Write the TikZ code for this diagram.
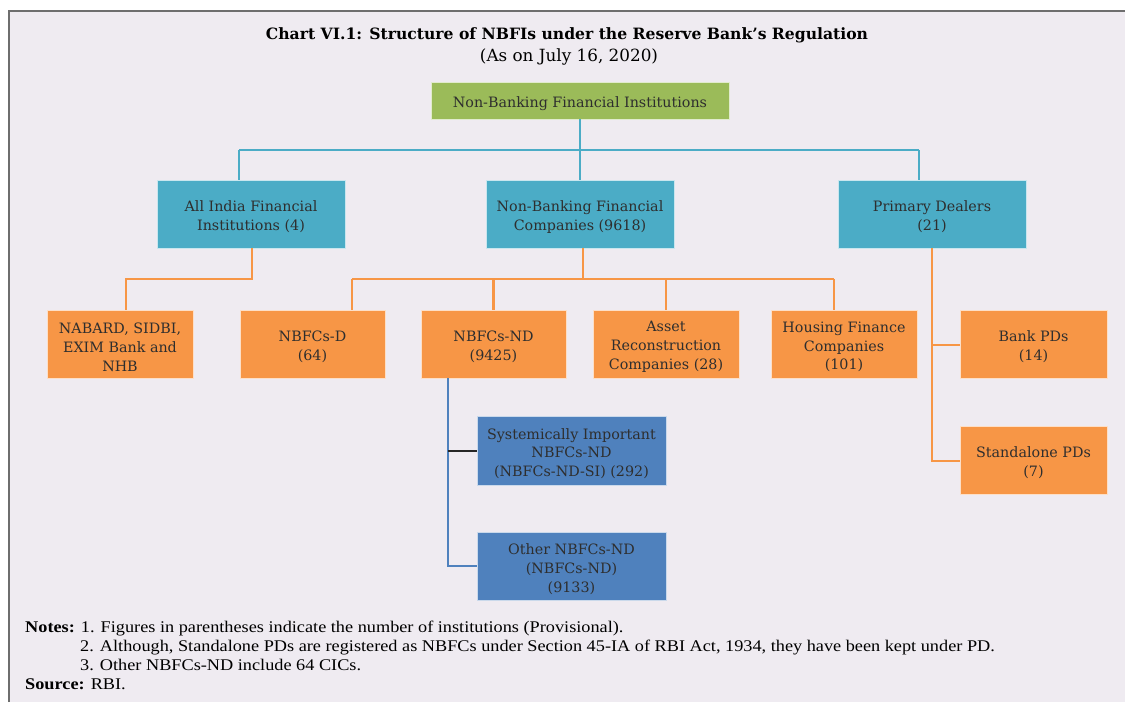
\documentclass[tikz,border=0pt]{standalone}
\usepackage{fontspec}
\setmainfont{DejaVu Serif}
\newfontfamily\notefont[FakeStretch=1.12]{Liberation Serif}
\usetikzlibrary{calc}
\definecolor{bgc}{HTML}{EFEBF1}
\definecolor{framec}{HTML}{6E6E6E}
\definecolor{greenc}{HTML}{9BBB59}
\definecolor{tealc}{HTML}{4BACC6}
\definecolor{orangec}{HTML}{F79646}
\definecolor{bluec}{HTML}{4F81BD}
\definecolor{txtc}{HTML}{2E2E2E}
\tikzset{
  box/.style={draw=white!70!#1, line width=0.6pt, fill=#1, inner sep=0pt},
  lbl/.style={yshift=-3pt, inner sep=0pt, align=center, text=txtc,
    font=\fontsize{14.3}{18.8}\selectfont},
  tealline/.style={draw=tealc, line width=2.8pt},
  orangeline/.style={draw=orangec, line width=2.8pt},
  blueline/.style={draw=bluec, line width=2.5pt},
}
\begin{document}
\begin{tikzpicture}[x=1pt,y=-1pt]
\useasboundingbox (0,0) rectangle (1125,702);
\fill[white] (0,0) rectangle (1125,702);
\fill[bgc] (9,11) rectangle (1125,702);
\draw[framec, line width=2.8pt] (9,702) -- (9,11) -- (1125,11);

\node[font=\fontsize{15.6}{17}\selectfont\bfseries] (title) at (567,35) {Chart VI.1: Structure of NBFIs under the Reserve Bank’s Regulation};
\node[font=\fontsize{16.8}{18}\selectfont] (sub) at (569,57) {(As on July 16, 2020)};

\node[box=greenc, minimum width=298pt, minimum height=37pt,
  label={[lbl]center:{Non-Banking Financial Institutions}}] (top) at (580,100.5) {};

\node[box=tealc, minimum width=188pt, minimum height=68pt,
  label={[lbl]center:{All India Financial\\Institutions (4)}}] (aifi) at (251,214) {};
\node[box=tealc, minimum width=188pt, minimum height=68pt,
  label={[lbl]center:{Non-Banking Financial\\Companies (9618)}}] (nbfc) at (580,214) {};
\node[box=tealc, minimum width=188pt, minimum height=68pt,
  label={[lbl]center:{Primary Dealers\\(21)}}] (pd) at (932,214) {};

\node[box=orangec, minimum width=146pt, minimum height=68pt,
  label={[lbl]center:{NABARD, SIDBI,\\EXIM Bank and\\NHB}}] (nabard) at (120,344) {};
\node[box=orangec, minimum width=145pt, minimum height=68pt,
  label={[lbl]center:{NBFCs-D\\(64)}}] (nbfcd) at (312.5,344) {};
\node[box=orangec, minimum width=145pt, minimum height=68pt,
  label={[lbl]center:{NBFCs-ND\\(9425)}}] (nbfcnd) at (493.5,344) {};
\node[box=orangec, minimum width=146pt, minimum height=68pt,
  label={[lbl]center:{Asset\\Reconstruction\\Companies (28)}}] (arc) at (666,344) {};
\node[box=orangec, minimum width=146pt, minimum height=68pt,
  label={[lbl]center:{Housing Finance\\Companies\\(101)}}] (hfc) at (844,344) {};
\node[box=orangec, minimum width=147pt, minimum height=68pt,
  label={[lbl]center:{Bank PDs\\(14)}}] (bankpd) at (1033.5,344) {};
\node[box=orangec, minimum width=147pt, minimum height=68pt,
  label={[lbl]center:{Standalone PDs\\(7)}}] (standpd) at (1033.5,460) {};

\node[box=bluec, minimum width=189pt, minimum height=69pt,
  label={[lbl]center:{Systemically Important\\NBFCs-ND\\(NBFCs-ND-SI) (292)}}] (si) at (571.5,450.5) {};
\node[box=bluec, minimum width=189pt, minimum height=68pt,
  label={[lbl]center:{Other NBFCs-ND\\(NBFCs-ND)\\(9133)}}] (other) at (571.5,566) {};

% teal connectors
\coordinate (tb) at (580,150);
\coordinate (tl) at (239,150);
\coordinate (tr) at (919,150);
\draw[tealline] (top.south) -- (tb);
\draw[tealline] (tl) -- (tr);
\draw[tealline] (tl) -- (tl |- aifi.north);
\draw[tealline] (tb) -- (nbfc.north);
\draw[tealline] (tr) -- (tr |- pd.north);

% orange connectors
\coordinate (oa) at (252,279);
\coordinate (ob) at (126,279);
\draw[orangeline] (aifi.south -| oa) -- (oa) -- (ob) -- (ob |- nabard.north);
\coordinate (oc) at (583,279);
\coordinate (od) at (352,279);
\coordinate (oe) at (834,279);
\draw[orangeline] (nbfc.south -| oc) -- (oc);
\draw[orangeline] (od) -- (oe);
\draw[orangeline] (od) -- (od |- nbfcd.north);
\draw[orangeline] (nbfcnd.north |- od) -- (nbfcnd.north);
\draw[orangeline] (arc.north |- od) -- (arc.north);
\draw[orangeline] (oe) -- (oe |- hfc.north);
\coordinate (pa) at (932,345);
\coordinate (pb) at (932,461);
\draw[orangeline] (pd.south) -- (pb) -- (pb -| standpd.west);
\draw[orangeline] (pa) -- (pa -| bankpd.west);

% blue connectors
\coordinate (ba) at (448,451);
\coordinate (bb) at (448,566);
\draw[blueline] (nbfcnd.south -| ba) -- (bb) -- (bb -| other.west);
\draw[black!85, line width=2.6pt] (ba) -- (ba -| si.west);

% notes
\begin{scope}[every node/.style={anchor=base west, inner sep=0pt, font=\notefont\fontsize{16.3}{18}\selectfont}]
\node (n1) at (25,632) {\textbf{Notes:} 1. Figures in parentheses indicate the number of institutions (Provisional).};
\node (n2) at (80,651) {2. Although, Standalone PDs are registered as NBFCs under Section 45-IA of RBI Act, 1934, they have been kept under PD.};
\node (n3) at (80,670) {3. Other NBFCs-ND include 64 CICs.};
\node (n4) at (25,689) {\textbf{Source:} RBI.};
\end{scope}
\end{tikzpicture}
\end{document}
